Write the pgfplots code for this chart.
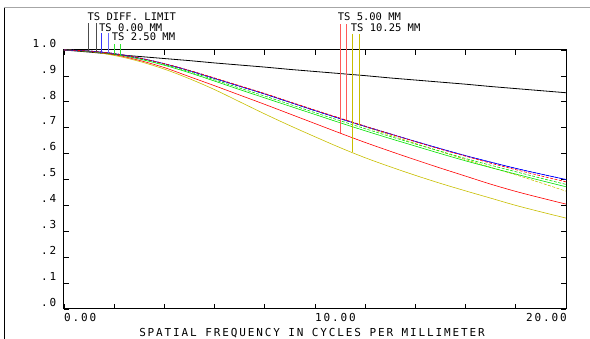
\documentclass[border=0pt]{standalone}
\usepackage{fontspec}
\setmainfont{DejaVu Sans Mono}
\newfontfamily\axfont{DejaVu Sans Mono}[LetterSpace=17]
\newfontfamily\lgfont{DejaVu Sans Mono}
\usepackage{pgfplots}
\usepackage{pgfplotstable}
\pgfplotsset{compat=1.18}
\definecolor{zblue}{RGB}{0,0,255}
\definecolor{zgreen}{RGB}{0,225,0}
\definecolor{zred}{RGB}{255,0,0}
\definecolor{zyel}{RGB}{200,190,0}

\pgfplotstableread{
f  diff  blue  redS  redT  grnS  grnT  yelS  yelT
0  1.000 1.000 1.000 1.000 1.000 1.000 1.000 1.000
1  0.992 0.996 0.996 0.995 0.995 0.995 0.996 0.994
2  0.983 0.986 0.986 0.982 0.985 0.984 0.986 0.979
3  0.975 0.969 0.969 0.960 0.967 0.965 0.969 0.956
4  0.967 0.947 0.947 0.932 0.944 0.941 0.947 0.926
5  0.959 0.920 0.921 0.897 0.916 0.912 0.920 0.889
6  0.950 0.890 0.892 0.862 0.885 0.880 0.890 0.847
7  0.942 0.860 0.862 0.826 0.853 0.847 0.860 0.800
8  0.934 0.830 0.832 0.790 0.822 0.815 0.830 0.753
9  0.925 0.798 0.800 0.753 0.790 0.783 0.798 0.708
10 0.917 0.766 0.768 0.716 0.758 0.751 0.766 0.665
11 0.909 0.735 0.737 0.679 0.727 0.719 0.735 0.623
12 0.901 0.705 0.706 0.643 0.696 0.688 0.703 0.584
13 0.892 0.676 0.676 0.609 0.666 0.658 0.671 0.549
14 0.884 0.647 0.646 0.576 0.637 0.629 0.639 0.516
15 0.876 0.619 0.617 0.544 0.609 0.600 0.608 0.485
16 0.868 0.592 0.590 0.513 0.581 0.572 0.577 0.456
17 0.859 0.567 0.563 0.482 0.555 0.546 0.547 0.428
18 0.851 0.543 0.538 0.454 0.530 0.521 0.518 0.400
19 0.843 0.521 0.514 0.429 0.505 0.496 0.487 0.375
20 0.835 0.500 0.491 0.405 0.481 0.472 0.455 0.351
}\mtf

\begin{document}
\begin{tikzpicture}
\useasboundingbox (-64pt,-30pt) rectangle (526pt,309pt);
\begin{axis}[
  at={(0pt,0pt)}, anchor=south west,
  scale only axis, width=502pt, height=259pt,
  xmin=0, xmax=20, ymin=0, ymax=1,
  clip=false,
  axis line style={line width=1pt, black},
  xtick={0,10}, xticklabels={0.00,10.00},
  minor xtick={2,4,6,8,12,14,16,18},
  extra x ticks={20}, extra x tick labels={20.00},
  extra x tick style={xticklabel style={anchor=base east, xshift=1pt}},
  ytick={0,0.1,0.2,0.3,0.4,0.5,0.6,0.7,0.8,0.9,1.0},
  yticklabels={.0,.1,.2,.3,.4,.5,.6,.7,.8,.9,1.0},
  tick align=inside,
  major tick length=5pt, minor tick length=5pt,
  every tick/.style={black, line width=0.7pt},
  xticklabel style={font=\axfont\fontsize{11}{13}\selectfont, anchor=base west, inner sep=0pt, yshift=-13pt},
  yticklabel style={font=\axfont\fontsize{11}{13}\selectfont, anchor=base east, inner sep=0pt, xshift=-7.5pt, yshift=2.7pt},
  xlabel={SPATIAL FREQUENCY IN CYCLES PER MILLIMETER},
  xlabel style={font=\axfont\fontsize{11}{13}\selectfont, at={(rel axis cs:0.5,0)}, anchor=base, inner sep=0pt, yshift=-28pt, xshift=-3pt},
  every axis plot/.append style={line width=0.6pt},
]
% curves
\addplot[black, line width=0.8pt] table[x=f, y=diff] {\mtf};
\addplot[zyel, smooth, tension=0.6] table[x=f, y=yelT] {\mtf};
\addplot[zyel, smooth, tension=0.6, dash pattern=on 3pt off 1.5pt] table[x=f, y=yelS] {\mtf};
\addplot[zred, smooth, tension=0.6] table[x=f, y=redT] {\mtf};
\addplot[zgreen, smooth, tension=0.6] table[x=f, y=grnT] {\mtf};
\addplot[zgreen, smooth, tension=0.6, dash pattern=on 3pt off 1.5pt] table[x=f, y=grnS] {\mtf};
\addplot[zblue, smooth, tension=0.6] table[x=f, y=blue] {\mtf};
\addplot[zblue, smooth, tension=0.6, dash pattern=on 3pt off 1.5pt] table[x=f, y=blue] {\mtf};
\addplot[zred, smooth, tension=0.6, dash pattern=on 3pt off 1.5pt] table[x=f, y=redS] {\mtf};
% legend drop lines
\addplot[black!70] coordinates {(0.98,1.103) (0.98,0.992)};
\addplot[black!70] coordinates {(1.27,1.103) (1.27,0.989)};
\addplot[zblue!80] coordinates {(1.47,1.064) (1.47,0.990)};
\addplot[zblue!60] coordinates {(1.75,1.064) (1.75,0.988)};
\addplot[zgreen!80] coordinates {(1.99,1.022) (1.99,0.985)};
\addplot[zgreen!80] coordinates {(2.24,1.022) (2.24,0.982)};
\addplot[zred!65] coordinates {(11.00,1.100) (11.00,0.679)};
\addplot[zred!65] coordinates {(11.26,1.100) (11.26,0.729)};
\addplot[zyel] coordinates {(11.47,1.062) (11.47,0.605)};
\addplot[zyel] coordinates {(11.75,1.062) (11.75,0.711)};
% legend labels
\node[font=\lgfont\fontsize{10.5}{12}\selectfont, anchor=base west, inner sep=0pt] at (axis cs:0.93,1.113) {TS DIFF. LIMIT};
\node[font=\lgfont\fontsize{10.5}{12}\selectfont, anchor=base west, inner sep=0pt] at (axis cs:1.39,1.073) {TS 0.00 MM};
\node[font=\lgfont\fontsize{10.5}{12}\selectfont, anchor=base west, inner sep=0pt] at (axis cs:1.90,1.035) {TS 2.50 MM};
\node[font=\lgfont\fontsize{10.5}{12}\selectfont, anchor=base west, inner sep=0pt] at (axis cs:10.90,1.113) {TS 5.00 MM};
\node[font=\lgfont\fontsize{10.5}{12}\selectfont, anchor=base west, inner sep=0pt] at (axis cs:11.42,1.073) {TS 10.25 MM};
\end{axis}
\draw[black, line width=0.8pt] (-60pt,302pt) -- (-60pt,-30pt);
\draw[black!35, line width=0.8pt] (-60pt,302pt) -- (526pt,302pt);
\end{tikzpicture}
\end{document}
